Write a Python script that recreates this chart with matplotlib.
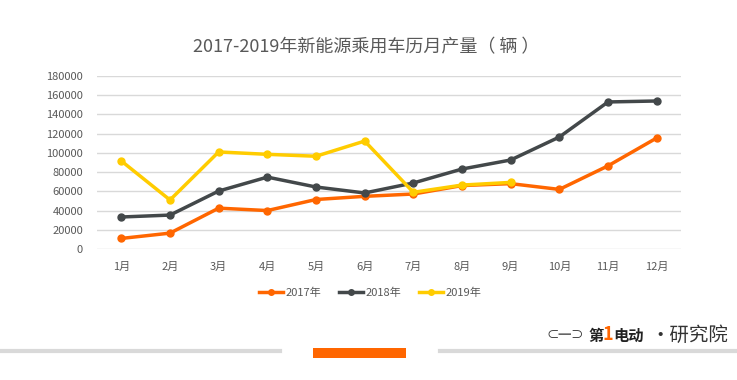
import matplotlib.pyplot as plt
from matplotlib.patches import Rectangle
from matplotlib.lines import Line2D

plt.rcParams['font.family'] = ['Noto Sans CJK SC', 'DejaVu Sans']

months = ['1月', '2月', '3月', '4月', '5月', '6月', '7月', '8月', '9月', '10月', '11月', '12月']
y2017 = [11000, 16500, 42500, 40000, 51500, 54800, 57200, 66000, 68000, 62000, 86500, 115500]
y2018 = [33300, 35300, 60300, 74800, 64500, 58300, 68700, 83200, 92600, 116500, 153000, 154000]
y2019 = [91600, 51000, 101000, 98500, 96500, 112300, 59000, 66500, 69300]
yticks = list(range(0, 180001, 20000))

c17 = '#FF6600'
c18 = '#43484A'
c19 = '#FFCC00'

fig = plt.figure(figsize=(7.37, 3.8), dpi=100)
ax = fig.add_axes([97 / 737, 1 - 249 / 380, 584 / 737, 173 / 380])

x = list(range(len(months)))
ax.plot(x, y2017, color=c17, lw=2.5, marker='o', ms=5, label='2017年')
ax.plot(x, y2018, color=c18, lw=2.5, marker='o', ms=5, label='2018年')
ax.plot(x[:len(y2019)], y2019, color=c19, lw=2.5, marker='o', ms=5, label='2019年')

ax.set_xlim(-0.5, len(months) - 0.5)
ax.set_ylim(0, 180000)
ax.set_yticks(yticks)
ax.set_yticklabels([str(v) for v in yticks])
ax.set_xticks(x)
ax.set_xticklabels(months)
ax.grid(axis='y', color='#D9D9D9', lw=1)
ax.set_axisbelow(True)
for s in ax.spines.values():
    s.set_visible(False)
ax.tick_params(length=0, colors='#595959', labelsize=8)
ax.tick_params(axis='x', pad=9)
ax.tick_params(axis='y', pad=10)

fig.text(366 / 737, 1 - 47 / 380, '2017-2019年新能源乘用车历月产量（ 辆 ）',
         ha='center', va='center', fontsize=13, color='#595959')

handles = [Line2D([0], [0], color=c, lw=2.5, marker='o', ms=4) for c in (c17, c18, c19)]
fig.legend(handles, ['2017年', '2018年', '2019年'], loc='center',
           bbox_to_anchor=(370 / 737, 1 - 293 / 380), ncol=3, frameon=False,
           fontsize=8, labelcolor='#595959', handlelength=2.2, handletextpad=0.2,
           columnspacing=1.6)

# bottom decoration
fig.add_artist(Line2D([0, 280 / 737], [1 - 351 / 380] * 2, color='#D9D9D9', lw=3))
fig.add_artist(Line2D([440 / 737, 1], [1 - 351 / 380] * 2, color='#D9D9D9', lw=3))
fig.add_artist(Rectangle((313 / 737, 1 - 358 / 380), 93 / 737, 10 / 380,
                         transform=fig.transFigure, color='#FF6600', lw=0))

# logo text
fig.text(546 / 737, 1 - 336 / 380, '⊂═⊃', fontsize=9, color='#333333',
         ha='left', va='center')
fig.text(588 / 737, 1 - 336 / 380, '第', fontsize=11, fontweight='bold',
         color='#222222', ha='left', va='center')
fig.text(603 / 737, 1 - 334 / 380, '1', fontsize=13, fontweight='bold',
         color='#FF6600', ha='left', va='center', style='italic')
fig.text(613 / 737, 1 - 336 / 380, '电动', fontsize=11, fontweight='bold',
         color='#222222', ha='left', va='center')
fig.text(650 / 737, 1 - 335 / 380, '·研究院', fontsize=14,
         color='#333333', ha='left', va='center')

fig.savefig('out.png', dpi=100)
